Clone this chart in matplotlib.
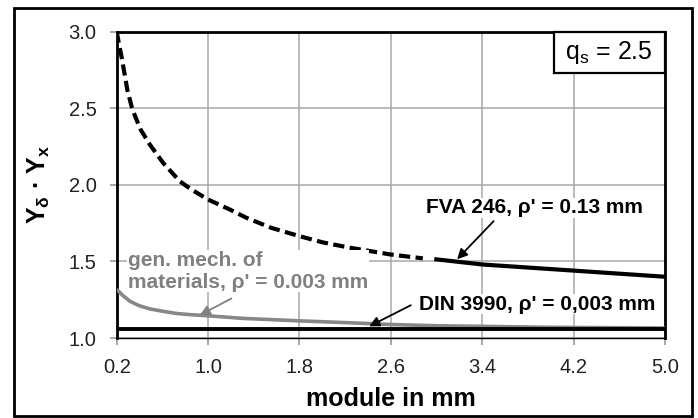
import matplotlib
matplotlib.use("Agg")
import matplotlib.pyplot as plt
from matplotlib.patches import Rectangle

plt.rcParams['font.family'] = ['Liberation Sans', 'DejaVu Sans']
plt.rcParams['mathtext.fontset'] = 'custom'
plt.rcParams['mathtext.rm'] = 'Liberation Sans'
plt.rcParams['mathtext.bf'] = 'Liberation Sans:bold'
plt.rcParams['mathtext.it'] = 'Liberation Sans:italic'
plt.rcParams['mathtext.default'] = 'regular'

# ---- data ----
fva_dashed_m = [0.2, 0.22, 0.244, 0.27, 0.293, 0.331, 0.36, 0.41, 0.491, 0.607, 0.753, 0.855,
                1.0, 1.19, 1.335, 1.55, 1.8, 2.0, 2.237, 2.6, 2.88]
fva_dashed_v = [3.0, 2.92, 2.83, 2.72, 2.62, 2.51, 2.45, 2.36, 2.262, 2.143, 2.023, 1.969,
                1.904, 1.839, 1.785, 1.72, 1.665, 1.625, 1.59, 1.545, 1.52]
fva_solid_m = [2.98, 3.4, 3.8, 4.2, 4.6, 5.0]
fva_solid_v = [1.515, 1.48, 1.46, 1.44, 1.42, 1.40]

gmm_m = [0.2, 0.25, 0.316, 0.4, 0.49, 0.6, 0.724, 0.85, 1.0, 1.305, 1.8, 2.32, 2.6, 3.0, 4.0, 5.0]
gmm_v = [1.318, 1.28, 1.24, 1.21, 1.19, 1.175, 1.16, 1.152, 1.145, 1.128, 1.112, 1.097, 1.088,
         1.08, 1.07, 1.065]

din_m = [0.2, 5.0]
din_v = [1.06, 1.06]

x_ticks = [0.2, 1.0, 1.8, 2.6, 3.4, 4.2, 5.0]
y_ticks = [1.0, 1.5, 2.0, 2.5, 3.0]

W, H = 698, 418
fig = plt.figure(figsize=(W / 100, H / 100), dpi=100)
ax = fig.add_axes([116.7 / W, (H - 338) / H, (665 - 116.7) / W, (338 - 31.7) / H])

# outer frame
fig.patches.append(Rectangle((13.5 / W, 1.8 / H), (692 - 13.5) / W, (416.2 - 7.5) / H,
                             transform=fig.transFigure, fill=False, edgecolor='black',
                             linewidth=2.0, zorder=0))

ax.set_xlim(0.2, 5.0)
ax.set_ylim(1.0, 3.0)
ax.set_xticks(x_ticks)
ax.set_yticks(y_ticks)
ax.set_xticklabels([f"{v:.1f}" for v in x_ticks])
ax.set_yticklabels([f"{v:.1f}" for v in y_ticks])
ax.grid(True, color='#a8a8a8', linewidth=1.1)
ax.set_axisbelow(True)
ax.tick_params(axis='both', direction='out', length=5, width=1.1, color='#909090',
               labelsize=14.5, pad=9.5, labelcolor='#222222')
for s in ['top', 'right', 'left']:
    ax.spines[s].set_linewidth(2.0)
    ax.spines[s].set_color('black')
ax.spines['bottom'].set_linewidth(1.0)

# curves
ax.plot(gmm_m, gmm_v, color='#878787', linewidth=2.6, solid_capstyle='butt', zorder=3)
ax.plot(din_m, din_v, color='black', linewidth=2.8, solid_capstyle='butt', zorder=4)
ax.plot(fva_dashed_m, fva_dashed_v, color='black', linewidth=3.0,
        linestyle=(0, (2.7, 1.3)), dash_capstyle='butt', zorder=4)
ax.plot(fva_solid_m, fva_solid_v, color='black', linewidth=3.0, solid_capstyle='butt', zorder=4)

# annotations
bbox = dict(facecolor='white', edgecolor='none', pad=0.5)
ax.text(3.858, 1.849, "FVA 246, \u03c1' = 0.13 mm", ha='center', va='center', fontsize=15,
        fontweight='bold', color='black', bbox=bbox, zorder=6)
ax.text(3.877, 1.221, "DIN 3990, \u03c1' = 0,003 mm", ha='center', va='center', fontsize=15,
        fontweight='bold', color='black', bbox=bbox, zorder=6)
ax.text(0.299, 1.436, "gen. mech. of\nmaterials, \u03c1' = 0.003 mm", ha='left', va='center',
        fontsize=15, fontweight='bold', color='#808080', linespacing=1.2, bbox=bbox, zorder=6)

arrow_k = dict(arrowstyle='-|>', lw=1.3, mutation_scale=15, shrinkA=0, shrinkB=0)
ax.annotate("", xy=(3.18, 1.514), xytext=(3.50, 1.763),
            arrowprops=dict(color='black', **arrow_k), zorder=7)
ax.annotate("", xy=(2.41, 1.076), xytext=(2.775, 1.214),
            arrowprops=dict(color='black', **arrow_k), zorder=7)
ax.annotate("", xy=(0.927, 1.149), xytext=(1.204, 1.258),
            arrowprops=dict(color='#808080', **arrow_k), zorder=7)

# q_s box
ax.add_patch(Rectangle((0.7976, 0.864), 1.0 - 0.7976, 0.136, transform=ax.transAxes,
                       facecolor='white', edgecolor='black', linewidth=1.6, zorder=7,
                       clip_on=False))
ax.text(0.898, 0.932, "q$_s$ = 2.5", transform=ax.transAxes, ha='center', va='center',
        fontsize=18, color='black', zorder=8)

ax.set_xlabel("module in mm", fontsize=18, fontweight='bold', labelpad=7)
ax.set_ylabel("Y$_\u03b4$ \u00b7 Y$_x$", fontsize=18, fontweight='bold', labelpad=12)

fig.savefig("out.png", dpi=100)
